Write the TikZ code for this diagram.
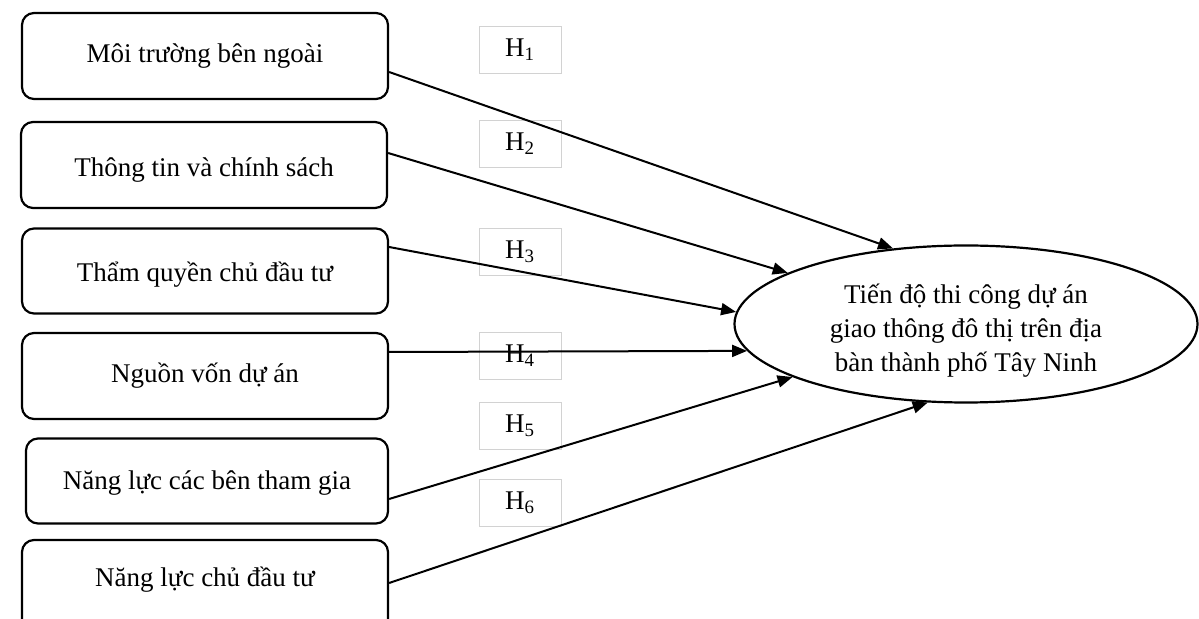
\documentclass[tikz,border=0pt]{standalone}
\usepackage{fontspec}
\setmainfont{Liberation Serif}
\usetikzlibrary{calc,
	positioning,
	shapes.geometric,
	arrows.meta}
\tikzset{
	factor/.style={draw, line width=1.1pt, rounded corners=6pt, minimum width=183pt, minimum height=43pt, inner sep=0pt},
	hyp/.style={draw=gray!35, line width=0.5pt, minimum width=41pt, minimum height=23.5pt, inner sep=0pt},
	link/.style={-{Triangle[length=7.5pt,width=6pt]}, line width=1pt},
}

\begin{document}
\begin{tikzpicture}[x=0.5pt, y=-0.5pt, font=\fontsize{13.5}{17}\selectfont]
	\useasboundingbox (0,0) rectangle (1199,619);
	\clip (0,0) rectangle (1199,619);
	% factors
	\node[factor] (env) at (205,56) {Môi trường bên ngoài};
	\node[factor] (info) at (204,165) {\raisebox{-2.5pt}[\height][\depth]{Thông tin và chính sách}};
	\node[factor, minimum height=42.5pt] (auth) at (205,271) {\raisebox{-2pt}[\height][\depth]{Thẩm quyền chủ đầu tư}};
	\node[factor] (fund) at (205,376) {Nguồn vốn dự án};
	\node[factor, minimum width=181pt, minimum height=42.5pt] (part) at (207,481) {\raisebox{-1pt}[\height][\depth]{Năng lực các bên tham gia}};
	\node[factor, minimum height=46pt] (owner) at (205,586) {\raisebox{3pt}[\height][\depth]{Năng lực chủ đầu tư}};
	% dependent variable
	\node[draw, ellipse, line width=1.1pt, minimum width=231.5pt, minimum height=78.5pt, inner sep=0pt,
		label={[align=center, yshift=-3.5pt]center:Tiến độ thi công dự án\\giao thông đô thị trên địa\\bàn thành phố Tây Ninh}] (goal) at (966,324) {};
	% hypotheses
	\node[hyp] (h1) at (520,50) {H\textsubscript{1}};
	\node[hyp] (h2) at (520,144) {H\textsubscript{2}};
	\node[hyp] (h3) at (520,252) {H\textsubscript{3}};
	\node[hyp] (h4) at (520,356) {H\textsubscript{4}};
	\node[hyp] (h5) at (520,426) {H\textsubscript{5}};
	\node[hyp] (h6) at (520,503) {H\textsubscript{6}};
	% paths
	\draw[link] ($(env.east)+(0,16)$) -- (goal.134.6);
	\draw[link] ($(info.east)+(0,-12)$) -- (goal.164.8);
	\draw[link] ($(auth.east)+(0,-24)$) -- (goal.177.8);
	\draw[link] ($(fund.east)+(0,-24)$) -- (goal.187.5);
	\draw[link] ($(part.east)+(0,18)$) -- (goal.197.9);
	\draw[link] ($(owner.east)+(0,-3)$) -- (goal.244);
\end{tikzpicture}
\end{document}
